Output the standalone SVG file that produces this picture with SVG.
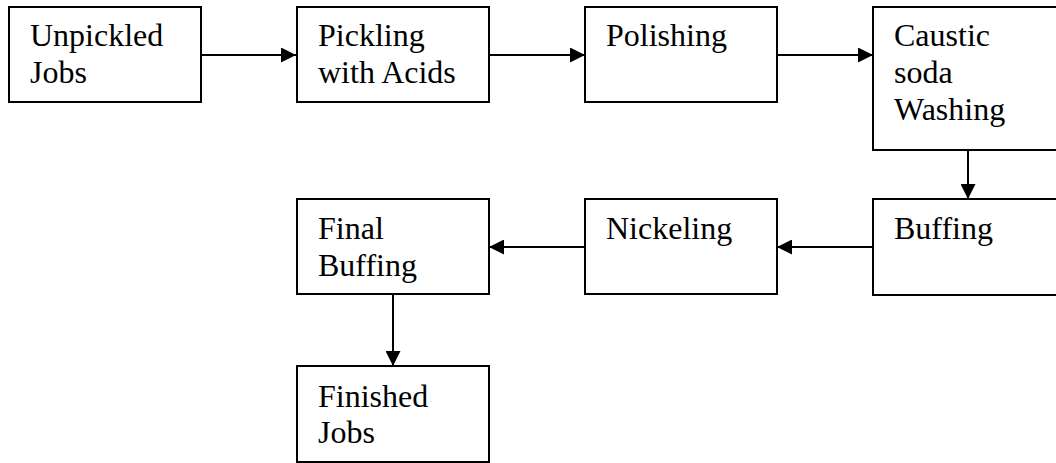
<svg xmlns="http://www.w3.org/2000/svg" width="1056" height="463" viewBox="0 0 1056 463">
<style>
.box{fill:#fff;stroke:#000;stroke-width:2}
.lbl{font-family:"Liberation Serif","Times New Roman",serif;font-size:32px;fill:#000}
.con{stroke:#000;stroke-width:2;fill:none;marker-end:url(#ah)}
</style>
<defs>
<marker id="ah" markerWidth="15" markerHeight="15" refX="15" refY="7.5" orient="auto" markerUnits="userSpaceOnUse">
<path d="M0,0 L15,7.5 L0,15 Z" fill="#000"/>
</marker>
</defs>
<rect width="1056" height="463" fill="#fff"/>
<g id="connectors">
<line class="con" x1="201" y1="55" x2="296" y2="55"/>
<line class="con" x1="489" y1="55" x2="585" y2="55"/>
<line class="con" x1="777" y1="55" x2="873" y2="55"/>
<line class="con" x1="968" y1="150" x2="968" y2="199"/>
<line class="con" x1="873" y1="247" x2="777" y2="247"/>
<line class="con" x1="585" y1="247" x2="489" y2="247"/>
<line class="con" x1="393" y1="294" x2="393" y2="366"/>
</g>
<g id="n1"><rect class="box" x="9" y="7" width="192" height="95"/><text class="lbl" x="30" y="46">Unpickled</text><text class="lbl" x="30" y="83">Jobs</text></g>
<g id="n2"><rect class="box" x="297" y="7" width="192" height="95"/><text class="lbl" x="318" y="46">Pickling</text><text class="lbl" x="318" y="83">with Acids</text></g>
<g id="n3"><rect class="box" x="585" y="7" width="192" height="95"/><text class="lbl" x="606" y="46">Polishing</text></g>
<g id="n4"><rect class="box" x="873" y="7" width="200" height="143"/><text class="lbl" x="894" y="46">Caustic</text><text class="lbl" x="894" y="83">soda</text><text class="lbl" x="894" y="120">Washing</text></g>
<g id="n5"><rect class="box" x="873" y="199" width="200" height="96"/><text class="lbl" x="894" y="239">Buffing</text></g>
<g id="n6"><rect class="box" x="585" y="199" width="192" height="95"/><text class="lbl" x="606" y="239">Nickeling</text></g>
<g id="n7"><rect class="box" x="297" y="199" width="192" height="95"/><text class="lbl" x="318" y="239">Final</text><text class="lbl" x="318" y="276">Buffing</text></g>
<g id="n8"><rect class="box" x="297" y="366" width="192" height="96"/><text class="lbl" x="318" y="407">Finished</text><text class="lbl" x="318" y="443">Jobs</text></g>
</svg>
